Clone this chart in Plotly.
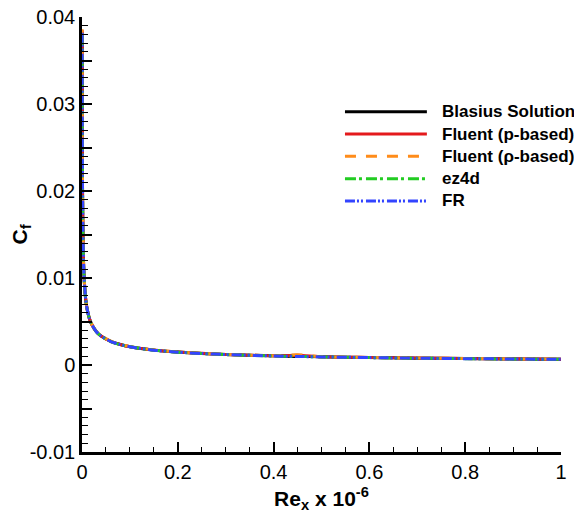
import plotly.graph_objects as go

# Re_x x 1e-6 stations
re_x = [0.0003, 0.0005, 0.001, 0.002, 0.004, 0.007, 0.01, 0.015, 0.02, 0.03,
        0.04, 0.06, 0.08, 0.1, 0.15, 0.2, 0.25, 0.3, 0.4, 0.45, 0.5, 0.6,
        0.7, 0.8, 0.9, 1.0]

cf_blasius = [0.0383, 0.0297, 0.0210, 0.01485, 0.0105, 0.00794, 0.00664, 0.00542,
              0.00470, 0.00383, 0.00332, 0.00271, 0.00235, 0.00210, 0.00171,
              0.00148, 0.00133, 0.00121, 0.00105, 0.00099, 0.00094, 0.00086,
              0.00079, 0.00074, 0.00070, 0.00066]
cf_fluent_p = [0.0385, 0.0299, 0.0211, 0.01490, 0.0105, 0.00795, 0.00665, 0.00543,
               0.00471, 0.00384, 0.00333, 0.00272, 0.00236, 0.00211, 0.00172,
               0.00149, 0.00134, 0.00122, 0.00106, 0.00112, 0.00095, 0.00087,
               0.00080, 0.00075, 0.00071, 0.00067]
cf_fluent_rho = [0.0386, 0.0300, 0.0212, 0.01492, 0.0106, 0.00797, 0.00666, 0.00544,
                 0.00472, 0.00385, 0.00334, 0.00273, 0.00237, 0.00211, 0.00172,
                 0.00149, 0.00134, 0.00122, 0.00106, 0.00118, 0.00095, 0.00087,
                 0.00080, 0.00075, 0.00071, 0.00067]
cf_ez4d = [0.0380, 0.0295, 0.0209, 0.01480, 0.0105, 0.00793, 0.00663, 0.00541,
           0.00469, 0.00382, 0.00331, 0.00270, 0.00234, 0.00209, 0.00170,
           0.00147, 0.00132, 0.00120, 0.00104, 0.00099, 0.00093, 0.00085,
           0.00078, 0.00073, 0.00069, 0.00065]
cf_fr = [0.0382, 0.0296, 0.0210, 0.01483, 0.0105, 0.00793, 0.00663, 0.00541,
         0.00469, 0.00382, 0.00331, 0.00270, 0.00234, 0.00209, 0.00170,
         0.00147, 0.00132, 0.00120, 0.00104, 0.00098, 0.00093, 0.00085,
         0.00078, 0.00073, 0.00069, 0.00065]

y_ticks = [-0.01, -0.005, 0, 0.005, 0.01, 0.015, 0.02, 0.025, 0.03, 0.035, 0.04]
y_labels = ["-0.01", "", "0", "", "0.01", "", "0.02", "", "0.03", "", "0.04"]
x_ticks = [0, 0.2, 0.4, 0.6, 0.8, 1.0]
x_labels = ["0", "0.2", "0.4", "0.6", "0.8", "1"]

FONT = "Liberation Sans, Arial, Helvetica, sans-serif"

series = [
    ("Blasius Solution", cf_blasius, "#000000", "solid"),
    ("Fluent (p-based)", cf_fluent_p, "#E41A1C", "solid"),
    ("Fluent (\u03c1-based)", cf_fluent_rho, "#FF8C1A", "11px,10px"),
    ("ez4d", cf_ez4d, "#22CC22", "11px,3px,3px,4px"),
    ("FR", cf_fr, "#3344FF", "10px,2px,2px,2px,2px,3px"),
]

fig = go.Figure()
for name, cf, color, dash in series:
    fig.add_trace(go.Scatter(
        x=re_x, y=cf, mode="lines", name=name, showlegend=False,
        line=dict(color=color, width=3, dash=dash, shape="spline", smoothing=0.6),
    ))

# ── hand-drawn legend (long line samples like the original) ──
leg_x0, leg_x1, leg_tx = 0.549, 0.720, 0.747
leg_y0, leg_dy = 0.782, 0.0512
for i, (name, cf, color, dash) in enumerate(series):
    yy = leg_y0 - i * leg_dy
    fig.add_shape(type="line", xref="paper", yref="paper",
                  x0=leg_x0, x1=leg_x1, y0=yy, y1=yy,
                  line=dict(color=color, width=3, dash=dash))
    fig.add_annotation(xref="paper", yref="paper", x=leg_tx, y=yy,
                       xanchor="left", yanchor="middle", showarrow=False,
                       text="<b>" + name + "</b>",
                       font=dict(family=FONT, size=17, color="black"))

axis_common = dict(
    showline=True, linecolor="black", linewidth=2.5, mirror=False,
    showgrid=False, zeroline=False,
    ticks="inside", tickcolor="black", tickwidth=2, ticklen=10,
    tickfont=dict(family=FONT, size=20, color="black"),
    ticklabeloverflow="allow",
)

fig.update_xaxes(
    range=[0, 1], tickmode="array", tickvals=x_ticks, ticktext=x_labels,
    minor=dict(ticks="inside", dtick=0.05, tick0=0, ticklen=5, tickwidth=1, tickcolor="black"),
    title=dict(text="<b>Re<sub>x</sub> x 10<sup>-6</sup></b>", font=dict(family=FONT, size=21, color="black"),
               standoff=10),
    **axis_common,
)
fig.update_yaxes(
    range=[-0.01, 0.04], tickmode="array", tickvals=y_ticks, ticktext=y_labels,
    minor=dict(ticks="inside", dtick=0.001, tick0=0, ticklen=6, tickwidth=1, tickcolor="black"),
    title=dict(text="<b>C<sub>f</sub></b>", font=dict(family=FONT, size=21, color="black"),
               standoff=6),
    **axis_common,
)

# page body adds an 8px margin, so the figure is sized to fit inside it
fig.update_layout(
    width=574, height=515,
    margin=dict(l=74, r=21, t=9, b=71, autoexpand=False),
    plot_bgcolor="white", paper_bgcolor="white",
    showlegend=False,
)

fig.write_html("out.html")
